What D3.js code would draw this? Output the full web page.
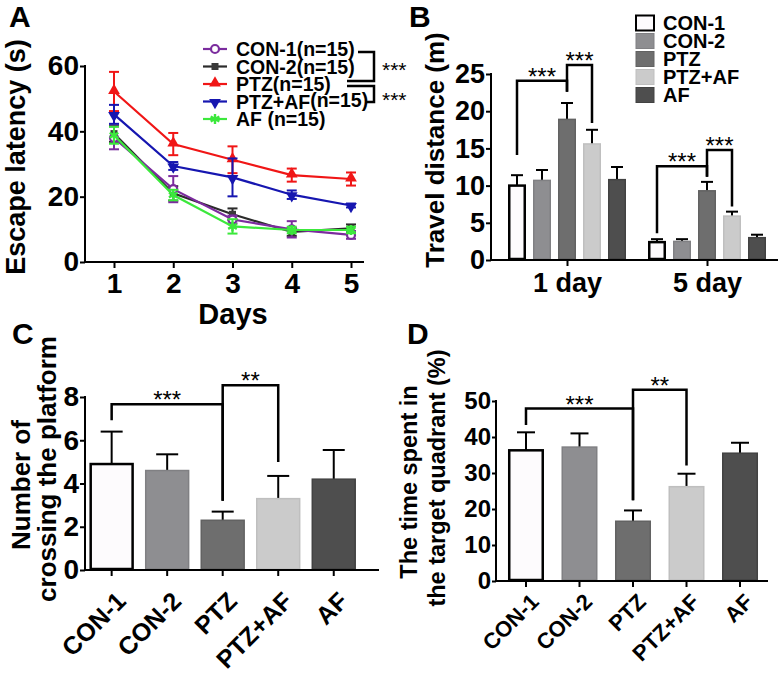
<!DOCTYPE html>
<html><head><meta charset="utf-8">
<script src="https://cdn.jsdelivr.net/npm/d3@7"></script>
<style>body{margin:0;background:#fff}svg{display:block}</style>
</head><body>
<svg id="fig" width="779" height="674"></svg>
<script>
// ---------------- data ----------------
// Panel A: escape latency (s) by day
const dayTicks = [1, 2, 3, 4, 5];
const latencyTicks = [0, 20, 40, 60];
const latencyNames = ["CON-1", "CON-2", "PTZ", "PTZ+AF", "AF"];
const latencyN = ["(n=15)", "(n=15)", "(n=15)", "(n=15)", " (n=15)"];
const latCON1 = [38.0, 22.3, 13.0, 10.0, 8.3];
const latCON1Err = [3.5, 4.0, 1.2, 2.5, 1.2];
const latCON2 = [39.3, 21.0, 14.6, 9.2, 10.3];
const latCON2Err = [2.5, 2.2, 1.8, 1.2, 1.2];
const latPTZ = [52.2, 36.1, 31.3, 26.6, 25.4];
const latPTZErr = [6.0, 3.4, 4.1, 2.0, 2.0];
const latPTZAF = [45.2, 29.4, 25.9, 20.6, 17.3];
const latPTZAFErr = [2.9, 1.2, 5.8, 1.3, 0.6];
const latAF = [38.8, 20.5, 10.9, 9.8, 9.8];
const latAFErr = [2.6, 1.6, 2.2, 1.0, 1.0];

// Panel B: travel distance (m)
const groups = ["CON-1", "CON-2", "PTZ", "PTZ+AF", "AF"];
const distDays = ["1 day", "5 day"];
const distTicks = [0, 5, 10, 15, 20, 25];
const dist1Day = [10.0, 10.7, 18.9, 15.6, 10.8];
const dist1DayErr = [1.4, 1.4, 2.2, 1.9, 1.7];
const dist5Day = [2.4, 2.5, 9.3, 5.9, 3.0];
const dist5DayErr = [0.4, 0.3, 1.2, 0.6, 0.4];

// Panel C: number of platform crossings
const crossTicks = [0, 2, 4, 6, 8];
const crossing = [4.9, 4.6, 2.3, 3.3, 4.2];
const crossingErr = [1.5, 0.75, 0.4, 1.05, 1.35];

// Panel D: time in target quadrant (%)
const quadTicks = [0, 10, 20, 30, 40, 50];
const quadrant = [36.3, 37.2, 16.6, 26.2, 35.5];
const quadrantErr = [5.0, 3.8, 3.0, 3.6, 2.9];

// significance brackets (data units)
const sigB = [
  {day: "1 day", from: 0, to: 2, top: 24.1, left: 14.1, right: 22.6, label: "***"},
  {day: "1 day", from: 2, to: 3, top: 26.2, left: 22.6, right: 18.4, label: "***"},
  {day: "5 day", from: 0, to: 2, top: 12.6, left: 3.6, right: 11.2, label: "***"},
  {day: "5 day", from: 2, to: 3, top: 14.8, left: 11.2, right: 7.2, label: "***"}
];
const sigC = [
  {from: 0, to: 2, top: 7.66, left: 6.92, right: 3.2, label: "***"},
  {from: 2, to: 3, top: 8.54, left: 3.2, right: 5.0, label: "**"}
];
const sigD = [
  {from: 0, to: 2, top: 47.9, left: 43.3, right: 22.4, label: "***"},
  {from: 2, to: 3, top: 53.1, left: 22.4, right: 32.1, label: "**"}
];

// ---------------- styles ----------------
const FF = '"Liberation Sans", Arial, Helvetica, sans-serif';
const lineColors = ["#7b2c9e", "#2b2b2b", "#f01616", "#1616b0", "#3ce83c"];
const barFills = ["#fdfbfd", "#8e8e91", "#6e6e6e", "#cbcbcb", "#4e4e4e"];
const barStrokes = ["#000", "#808083", "#626262", "#bfbfbf", "#424242"];

const svg = d3.select("#fig");

function styleAxis(g, fs) {
  g.attr("font-family", FF).attr("font-size", fs).attr("font-weight", "bold");
  g.select(".domain").remove();
  g.selectAll(".tick line").attr("stroke", "#000").attr("stroke-width", 2);
  g.selectAll(".tick text").attr("fill", "#000");
}
function seg(g, x1, y1, x2, y2, w) {
  g.append("line").attr("x1", x1).attr("y1", y1).attr("x2", x2).attr("y2", y2)
    .attr("stroke", "#000").attr("stroke-width", w || 2).attr("stroke-linecap", "square");
}
function txt(g, s, x, y, fs, opts) {
  opts = opts || {};
  const t = g.append("text").attr("x", x).attr("y", y).attr("font-family", FF)
    .attr("font-size", fs).attr("font-weight", opts.weight || "bold")
    .attr("text-anchor", opts.anchor || "start").attr("fill", "#000").text(s);
  if (opts.transform) t.attr("transform", opts.transform);
  return t;
}
function vlabel(g, s, x, y, fs) {
  g.append("text").attr("transform", `translate(${x},${y}) rotate(-90)`)
    .attr("font-family", FF).attr("font-size", fs).attr("font-weight", "bold")
    .attr("text-anchor", "middle").attr("fill", "#000").text(s);
}
function bracket(g, x1, x2, yL, yT, yR, label, fs) {
  g.append("path").attr("d", `M${x1},${yL}V${yT}H${x2}V${yR}`)
    .attr("fill", "none").attr("stroke", "#000").attr("stroke-width", 2.5)
    .attr("stroke-linejoin", "miter");
  txt(g, label, (x1 + x2) / 2, yT + 4, fs, {anchor: "middle", weight: "normal"});
}

// ---------------- Panel A ----------------
const gA = svg.append("g");
const xA = d3.scaleLinear().domain([1, 5]).range([114, 351]);
const yA = d3.scaleLinear().domain([0, 60]).range([262, 66]);
txt(gA, "A", 9, 27, 30);
gA.append("g").attr("transform", "translate(85,0)")
  .call(d3.axisLeft(yA).tickValues(latencyTicks).tickSize(5).tickPadding(1))
  .call(g => styleAxis(g, 28));
gA.append("g").attr("transform", "translate(0,262)")
  .call(d3.axisBottom(xA).tickValues(dayTicks).tickSize(6).tickPadding(5).tickFormat(d3.format("d")))
  .call(g => styleAxis(g, 28));
seg(gA, 85, yA(0), 85, yA(60));
seg(gA, 85, yA(0), 363, yA(0));
txt(gA, "Days", 233, 324, 29, {anchor: "middle"});
vlabel(gA, "Escape latency (s)", 25, 157, 27);

const seriesA = [
  {v: latCON2, e: latCON2Err, i: 1},
  {v: latCON1, e: latCON1Err, i: 0},
  {v: latPTZ, e: latPTZErr, i: 2},
  {v: latPTZAF, e: latPTZAFErr, i: 3},
  {v: latAF, e: latAFErr, i: 4}
];
const symAst = d3.symbolAsterisk || d3.symbolCross;
function marker(g, i, x, y) {
  const c = lineColors[i];
  if (i === 0) {
    g.append("circle").attr("cx", x).attr("cy", y).attr("r", 4).attr("fill", "#fff")
      .attr("stroke", c).attr("stroke-width", 2.2);
  } else if (i === 1) {
    g.append("rect").attr("x", x - 3.5).attr("y", y - 3.5).attr("width", 7).attr("height", 7).attr("fill", "#3a3a3a");
  } else if (i === 2) {
    g.append("path").attr("transform", `translate(${x},${y - 1})`)
      .attr("d", d3.symbol(d3.symbolTriangle, 60)()).attr("fill", c);
  } else if (i === 3) {
    g.append("path").attr("transform", `translate(${x},${y + 1}) rotate(180)`)
      .attr("d", d3.symbol(d3.symbolTriangle, 60)()).attr("fill", c);
  } else {
    g.append("path").attr("transform", `translate(${x},${y})`)
      .attr("d", d3.symbol(symAst, 70)()).attr("fill", "none").attr("stroke", c).attr("stroke-width", 2.4);
  }
}
const lineGen = d3.line().x((d, j) => xA(dayTicks[j])).y(d => yA(d));
seriesA.forEach(s => {
  const g = gA.append("g");
  const c = lineColors[s.i];
  s.v.forEach((v, j) => {
    const x = xA(dayTicks[j]);
    g.append("line").attr("x1", x).attr("x2", x).attr("y1", yA(v - s.e[j])).attr("y2", yA(v + s.e[j]))
      .attr("stroke", c).attr("stroke-width", 2);
    [v - s.e[j], v + s.e[j]].forEach(w => {
      g.append("line").attr("x1", x - 5).attr("x2", x + 5).attr("y1", yA(w)).attr("y2", yA(w))
        .attr("stroke", c).attr("stroke-width", 2);
    });
  });
  g.append("path").datum(s.v).attr("d", lineGen).attr("fill", "none").attr("stroke", c).attr("stroke-width", 2.2);
  s.v.forEach((v, j) => marker(g, s.i, xA(dayTicks[j]), yA(v)));
});
// legend A
latencyNames.forEach((n, i) => {
  const y = 49 + i * 17.5;
  gA.append("line").attr("x1", 203).attr("x2", 227).attr("y1", y).attr("y2", y)
    .attr("stroke", lineColors[i]).attr("stroke-width", 2.2);
  marker(gA, i, 215, y);
  const t = txt(gA, n, 236, y, 19.5).attr("dy", "0.36em");
  if (i === 3) t.append("tspan").attr("dy", -2).text(latencyN[i]);
  else t.append("tspan").text(latencyN[i]);
});
gA.append("path").attr("d", "M358,52H374V81H347").attr("fill", "none").attr("stroke", "#000").attr("stroke-width", 2.5);
gA.append("path").attr("d", "M347,86H374V102H366").attr("fill", "none").attr("stroke", "#000").attr("stroke-width", 2.5);
txt(gA, "***", 382, 77, 21, {weight: "normal"});
txt(gA, "***", 382, 107, 21, {weight: "normal"});

// ---------------- bar helpers ----------------
function drawBar(g, i, cx, w, y, v, e, capW) {
  g.append("line").attr("x1", cx).attr("x2", cx).attr("y1", y(v)).attr("y2", y(v + e))
    .attr("stroke", "#000").attr("stroke-width", 2);
  g.append("line").attr("x1", cx - capW / 2).attr("x2", cx + capW / 2).attr("y1", y(v + e)).attr("y2", y(v + e))
    .attr("stroke", "#000").attr("stroke-width", 2);
  const sw = i === 0 ? 2.5 : 1.5;
  g.append("rect").attr("x", cx - w / 2 + sw / 2).attr("y", y(v))
    .attr("width", w - sw).attr("height", y(0) - y(v) - 1)
    .attr("fill", barFills[i]).attr("stroke", barStrokes[i]).attr("stroke-width", sw);
}

// ---------------- Panel B ----------------
const gB = svg.append("g");
const yB = d3.scaleLinear().domain([0, 25]).range([260, 74]);
const xB0 = d3.scalePoint().domain(distDays).range([567, 707]);
const xB1 = d3.scaleBand().domain(groups).range([-62.5, 62.5]).paddingInner(0.28).paddingOuter(0.14);
txt(gB, "B", 409, 27, 30);
gB.append("g").attr("transform", "translate(491,0)")
  .call(d3.axisLeft(yB).tickValues(distTicks).tickSize(5).tickPadding(1))
  .call(g => styleAxis(g, 27));
gB.append("g").attr("transform", "translate(0,260)")
  .call(d3.axisBottom(xB0).tickSize(6).tickPadding(7))
  .call(g => styleAxis(g, 27));
vlabel(gB, "Travel distance (m)", 444, 150, 26);
[dist1Day, dist5Day].forEach((vals, k) => {
  const errs = k === 0 ? dist1DayErr : dist5DayErr;
  vals.forEach((v, i) => {
    const cx = xB0(distDays[k]) + xB1(groups[i]) + xB1.bandwidth() / 2;
    drawBar(gB, i, cx, xB1.bandwidth(), yB, v, errs[i], 12);
  });
});
seg(gB, 491, yB(0), 491, yB(25));
seg(gB, 491, yB(0), 777, yB(0));
sigB.forEach(s => {
  const base = xB0(s.day) + xB1.bandwidth() / 2;
  bracket(gB, base + xB1(groups[s.from]), base + xB1(groups[s.to]), yB(s.left), yB(s.top), yB(s.right), s.label, 24);
});
// legend B
groups.forEach((n, i) => {
  const y = 23 + i * 18;
  const sw = i === 0 ? 2 : 1;
  gB.append("rect").attr("x", 636).attr("y", y - 7.5).attr("width", 18).attr("height", 15)
    .attr("fill", barFills[i]).attr("stroke", barStrokes[i]).attr("stroke-width", sw);
  txt(gB, n, 663, y, 20).attr("dy", "0.36em");
});

// ---------------- Panel C ----------------
const gC = svg.append("g");
const yC = d3.scaleLinear().domain([0, 8]).range([570, 397]);
const xC = d3.scaleBand().domain(groups).range([85, 360.4]).paddingInner(0.2).paddingOuter(0.08);
txt(gC, "C", 12, 344, 30);
gC.append("g").attr("transform", "translate(85,0)")
  .call(d3.axisLeft(yC).tickValues(crossTicks).tickSize(5).tickPadding(1))
  .call(g => styleAxis(g, 28));
crossing.forEach((v, i) => {
  drawBar(gC, i, xC(groups[i]) + xC.bandwidth() / 2, xC.bandwidth(), yC, v, crossingErr[i], 22);
});
gC.append("g").attr("transform", "translate(0,570)")
  .call(d3.axisBottom(xC).tickSize(6))
  .call(g => styleAxis(g, 25))
  .call(g => g.selectAll(".tick text").attr("x", 0).attr("y", 0).attr("dy", "0.72em")
    .attr("text-anchor", "end").attr("transform", "translate(3,20) rotate(-45)"));
seg(gC, 85, yC(0), 85, yC(8));
seg(gC, 85, yC(0), 378, yC(0));
sigC.forEach(s => {
  const h = xC.bandwidth() / 2;
  bracket(gC, xC(groups[s.from]) + h, xC(groups[s.to]) + h, yC(s.left), yC(s.top), yC(s.right), s.label, 24);
});
vlabel(gC, "Number of", 30, 485, 26);
vlabel(gC, "crossing the platform", 56, 469, 26);

// ---------------- Panel D ----------------
const gD = svg.append("g");
const yD = d3.scaleLinear().domain([0, 50]).range([581, 401]);
const xD = d3.scaleBand().domain(groups).range([496, 770]).paddingInner(0.327).paddingOuter(0.224);
txt(gD, "D", 407, 344, 30);
gD.append("g").attr("transform", "translate(496,0)")
  .call(d3.axisLeft(yD).tickValues(quadTicks).tickSize(4).tickPadding(1))
  .call(g => styleAxis(g, 24));
quadrant.forEach((v, i) => {
  drawBar(gD, i, xD(groups[i]) + xD.bandwidth() / 2, xD.bandwidth(), yD, v, quadrantErr[i], 18);
});
gD.append("g").attr("transform", "translate(0,581)")
  .call(d3.axisBottom(xD).tickSize(6))
  .call(g => styleAxis(g, 22))
  .call(g => g.selectAll(".tick text").attr("x", 0).attr("y", 0).attr("dy", "0.72em")
    .attr("text-anchor", "end").attr("transform", "translate(3,11) rotate(-45)"));
seg(gD, 496, yD(0), 496, yD(50));
seg(gD, 496, yD(0), 767, yD(0));
sigD.forEach(s => {
  const h = xD.bandwidth() / 2;
  bracket(gD, xD(groups[s.from]) + h, xD(groups[s.to]) + h, yD(s.left), yD(s.top), yD(s.right), s.label, 24);
});
vlabel(gD, "The time spent in", 417, 482, 23.5);
vlabel(gD, "the target quadrant (%)", 445, 478, 23.5);
</script>
</body></html>
